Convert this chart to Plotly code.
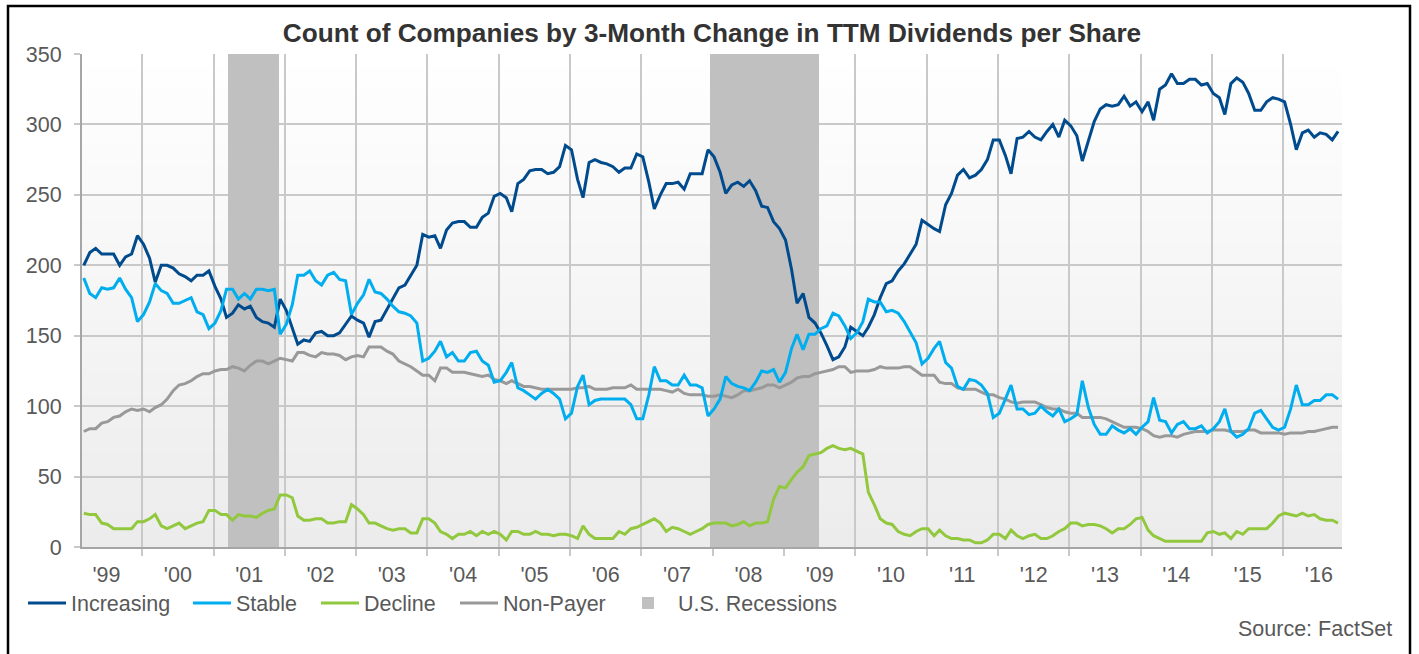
import base64
import struct
import zlib

import pandas as pd
import plotly.graph_objects as go

# ---------------- data ----------------
start_month = "1999-03-01"      # first monthly observation
n_months = 212                  # Mar 1999 .. Oct 2016

increasing = [
    200, 209, 212, 208, 208, 208, 200, 206, 208, 221,
    215, 205, 188, 200, 200, 198, 194, 192, 189, 193,
    193, 196, 185, 176, 163, 166, 172, 169, 171, 163,
    160, 159, 156, 176, 168, 156,
    144, 147, 146, 152,
    153, 150, 150, 152, 158, 164, 161, 159, 149, 160,
    161, 169, 176, 184, 186, 193, 200, 222, 220, 221,
    212, 225, 230, 231, 231, 227, 227, 234, 237, 249,
    251, 248, 238, 258, 261, 267, 268, 268, 265, 266,
    270, 285, 282, 261, 248, 273, 275, 273, 272, 270,
    266, 269, 269, 279, 277, 259, 240, 250, 258, 258,
    259, 254, 265, 265, 265, 282, 277, 266, 251, 257,
    259, 256, 260, 253, 242, 241, 231, 226, 218, 197,
    173, 180, 163, 159, 152, 143, 133, 135, 142, 156,
    153, 150, 156, 165, 177, 187, 189, 196, 201, 208,
    215, 232, 229, 226, 224, 243, 251, 264, 268, 262,
    264, 268, 275, 289, 289, 278, 265, 290, 291, 295,
    291, 289, 295, 300, 291, 303, 299, 292, 274, 288,
    302, 311, 314, 313, 314, 320, 313, 316, 309, 316,
    303, 325, 328, 336, 329, 329, 332, 332, 328, 329,
    322, 319, 307, 329, 333, 330, 322, 310, 310, 316,
    319, 318, 316, 300, 282, 294, 296, 291, 294, 293,
    289, 295,
]

stable = [
    191, 180, 177, 184, 183, 184, 191, 183, 177, 160,
    165, 174, 187, 182, 180, 173, 173, 175, 177, 167,
    165, 155, 159, 168, 183, 183, 176, 180, 176, 183,
    183, 182, 183, 151, 158, 172,
    193, 193, 196, 189,
    186, 193, 195, 190, 189, 165, 173, 179, 190, 181,
    180, 176, 171, 167, 166, 164, 159, 132, 134, 139,
    146, 135, 138, 132, 132, 138, 139, 132, 129, 117,
    118, 124, 131, 113, 111, 108, 105, 109, 112, 109,
    105, 91, 95, 114, 122, 101, 104, 105, 105, 105,
    105, 105, 101, 91, 91, 108, 128, 118, 118, 115,
    115, 122, 115, 115, 113, 93, 98, 105, 121, 116,
    114, 113, 111, 117, 125, 124, 126, 117, 124, 141,
    151, 140, 151, 151, 155, 157, 166, 164, 157, 148,
    152, 160, 176, 174, 174, 167, 168, 166, 160, 153,
    145, 130, 134, 141, 146, 131, 127, 114, 112, 119,
    118, 115, 109, 92, 95, 105, 115, 98, 98, 94,
    95, 100, 96, 93, 98, 89, 91, 94, 118, 99,
    87, 80, 80, 86, 83, 81, 84, 80, 85, 89,
    106, 90, 89, 81, 87, 89, 84, 84, 86, 81,
    84, 89, 98, 82, 78, 80, 84, 95, 97, 91,
    85, 83, 85, 98, 115, 101, 101, 104, 104, 108,
    108, 105,
]

decline = [
    24, 23, 23, 17, 16, 13, 13, 13, 13, 18,
    18, 20, 23, 15, 13, 15, 17, 13, 15, 17,
    18, 26, 26, 23, 23, 19, 23, 22, 22, 21,
    24, 26, 27, 37, 37, 35,
    22, 19, 19, 20,
    20, 17, 17, 18, 18, 30, 27, 23, 17, 17,
    15, 13, 12, 13, 13, 10, 10, 20, 20, 17,
    11, 9, 6, 9, 9, 11, 8, 11, 9, 11,
    9, 5, 11, 11, 9, 9, 11, 9, 9, 8,
    9, 9, 8, 6, 15, 9, 6, 6, 6, 6,
    11, 9, 13, 14, 16, 18, 20, 17, 11, 14,
    13, 11, 9, 11, 13, 16, 17, 17, 17, 15,
    16, 18, 15, 17, 17, 18, 34, 43, 42, 48,
    53, 57, 65, 66, 67, 70, 72, 70, 69, 70,
    68, 66, 39, 30, 20, 17, 16, 11, 9, 8,
    11, 13, 13, 8, 12, 8, 6, 6, 5, 5,
    3, 3, 5, 9, 9, 6, 12, 8, 6, 8,
    9, 6, 6, 8, 11, 13, 17, 17, 15, 16,
    16, 15, 13, 10, 13, 13, 16, 20, 21, 12,
    8, 6, 4, 4, 4, 4, 4, 4, 4, 10,
    11, 9, 10, 6, 11, 9, 13, 13, 13, 13,
    17, 22, 24, 23, 22, 24, 22, 23, 20, 19,
    19, 17,
]

non_payer = [
    82, 84, 84, 88, 89, 92, 93, 96, 98, 97,
    98, 96, 99, 101, 105, 111, 115, 116, 118, 121,
    123, 123, 125, 126, 126, 128, 127, 125, 129, 132,
    132, 130, 132, 134, 133, 132,
    138, 138, 136, 135,
    138, 137, 137, 136, 133, 135, 136, 135, 142, 142,
    142, 139, 137, 132, 130, 128, 125, 122, 122, 118,
    127, 127, 124, 124, 124, 123, 122, 121, 122, 119,
    118, 116, 118, 116, 114, 114, 113, 112, 112, 112,
    112, 112, 112, 113, 113, 114, 112, 112, 112, 113,
    113, 113, 115, 112, 112, 112, 112, 112, 111, 110,
    112, 109, 108, 108, 108, 107, 107, 108, 107, 106,
    108, 111, 111, 112, 113, 115, 115, 113, 115, 117,
    120, 121, 121, 123, 124, 125, 126, 128, 128, 124,
    125, 125, 125, 126, 128, 127, 127, 127, 128, 128,
    125, 122, 122, 122, 117, 116, 116, 113, 112, 112,
    112, 110, 108, 108, 106, 105, 103, 102, 103, 103,
    103, 101, 99, 98, 98, 96, 95, 95, 92, 92,
    92, 92, 91, 89, 87, 85, 85, 85, 84, 82,
    79, 78, 79, 79, 78, 80, 81, 82, 82, 82,
    83, 83, 83, 82, 82, 82, 83, 83, 81, 81,
    81, 81, 80, 81, 81, 81, 82, 82, 83, 84,
    85, 85,
]

recession_start = ["2001-03-15", "2007-12-18"]
recession_end = ["2001-11-30", "2009-06-30"]

title_text = "Count of Companies by 3-Month Change in TTM Dividends per Share"
source_text = "Source: FactSet"

# ---------------- derived ----------------
dates = pd.date_range(start_month, periods=n_months, freq="MS") + pd.Timedelta(days=7)
rs = pd.to_datetime(recession_start)
re_ = pd.to_datetime(recession_end)
rec_center = rs + (re_ - rs) / 2
rec_width = [(e - s).total_seconds() * 1000 for s, e in zip(rs, re_)]


def gradient_png(h, top, bottom):
    raw = b""
    for i in range(h):
        t = i / (h - 1)
        c = bytes(round(top[j] + (bottom[j] - top[j]) * t) for j in range(3))
        raw += b"\x00" + c

    def chunk(tag, data):
        return (struct.pack(">I", len(data)) + tag + data
                + struct.pack(">I", zlib.crc32(tag + data) & 0xFFFFFFFF))

    png = b"\x89PNG\r\n\x1a\n"
    png += chunk(b"IHDR", struct.pack(">IIBBBBB", 1, h, 8, 2, 0, 0, 0))
    png += chunk(b"IDAT", zlib.compress(raw))
    png += chunk(b"IEND", b"")
    return "data:image/png;base64," + base64.b64encode(png).decode()


FONT = "Liberation Sans, Arial, sans-serif"
TXT = "#595959"
GRID = "#c9c9c9"
AXIS = "#a6a6a6"

W, H = 1419, 654
L, R, T, B = 82, 77, 54, 107
PW, PH = W - L - R, H - T - B


def px_x(x):
    return (x - L) / PW


def px_y(y):
    return (H - B - y) / PH


fig = go.Figure()

fig.add_trace(go.Bar(
    x=rec_center, y=[350] * len(rec_center), base=0, width=rec_width,
    name="U.S. Recessions", marker=dict(color="#c0c0c0", line=dict(width=0)),
    legend="legend5", hoverinfo="skip",
))
fig.add_trace(go.Scatter(x=dates, y=non_payer, name="Non-Payer", mode="lines",
                         line=dict(color="#999999", width=3), legend="legend4"))
fig.add_trace(go.Scatter(x=dates, y=decline, name="Decline", mode="lines",
                         line=dict(color="#92c83e", width=3), legend="legend3"))
fig.add_trace(go.Scatter(x=dates, y=increasing, name="Increasing", mode="lines",
                         line=dict(color="#004b8d", width=3), legend="legend"))
fig.add_trace(go.Scatter(x=dates, y=stable, name="Stable", mode="lines",
                         line=dict(color="#00aeef", width=3), legend="legend2"))


def leg(x_px, iw=38):
    return dict(orientation="h", xref="paper", yref="paper",
                x=px_x(x_px), y=px_y(603), xanchor="left", yanchor="middle",
                bgcolor="rgba(0,0,0,0)", itemwidth=iw,
                font=dict(family=FONT, size=21.5, color=TXT))


fig.update_layout(
    width=W, height=H,
    margin=dict(l=L, r=R, t=T, b=B),
    paper_bgcolor="white", plot_bgcolor="white",
    font=dict(family=FONT, size=21.5, color=TXT),
    title=dict(text="<b>" + title_text + "</b>", x=0.5, xref="paper", xanchor="center",
               y=1 - 33 / H, yref="container", yanchor="middle",
               font=dict(family=FONT, size=26.2, color="#333333")),
    showlegend=True,
    legend=leg(23), legend2=leg(188), legend3=leg(316), legend4=leg(455),
    legend5=leg(618, iw=50),
    bargap=0,
    xaxis=dict(type="date", range=["1999-02-27", "2016-10-28"],
               dtick="M12", tick0="2000-01-01", ticklabelmode="period", tickformat="'%y",
               showgrid=True, gridcolor=GRID, gridwidth=2,
               ticks="outside", ticklen=7, tickcolor=GRID, tickwidth=2,
               showline=True, linecolor=AXIS, linewidth=2,
               tickfont=dict(family=FONT, size=21.5, color=TXT), zeroline=False),
    yaxis=dict(range=[0, 350], dtick=50, showgrid=True, gridcolor=GRID, gridwidth=2,
               ticks="outside", ticklen=6, tickcolor=GRID, tickwidth=2,
               ticklabelstandoff=8,
               showline=True, linecolor=AXIS, linewidth=2, zeroline=False,
               tickfont=dict(family=FONT, size=21.5, color=TXT)),
    yaxis2=dict(range=[0, 350], dtick=50, overlaying="y", side="right", showgrid=False,
                ticks="outside", ticklen=10, tickcolor=GRID, tickwidth=2,
                ticklabelstandoff=5,
                showline=True, linecolor=AXIS, linewidth=2, zeroline=False,
                tickfont=dict(family=FONT, size=21.5, color=TXT)),
    images=[dict(source=gradient_png(64, (255, 255, 255), (236, 236, 236)),
                 xref="paper", yref="paper", x=0, y=1, sizex=1, sizey=1,
                 xanchor="left", yanchor="top", sizing="stretch", layer="below")],
    annotations=[dict(text=source_text, xref="paper", yref="paper",
                      x=px_x(1394), y=px_y(629),
                      xanchor="right", yanchor="middle", showarrow=False,
                      font=dict(family=FONT, size=21.5, color=TXT))],
    shapes=[dict(type="rect", xref="paper", yref="paper",
                 x0=px_x(8), x1=px_x(1410), y0=px_y(670), y1=px_y(6),
                 line=dict(color="black", width=2.5), fillcolor="rgba(0,0,0,0)",
                 layer="above")],
)

fig.write_html("out.html", config={"displayModeBar": False},
               post_script="document.body.style.margin='0';")
